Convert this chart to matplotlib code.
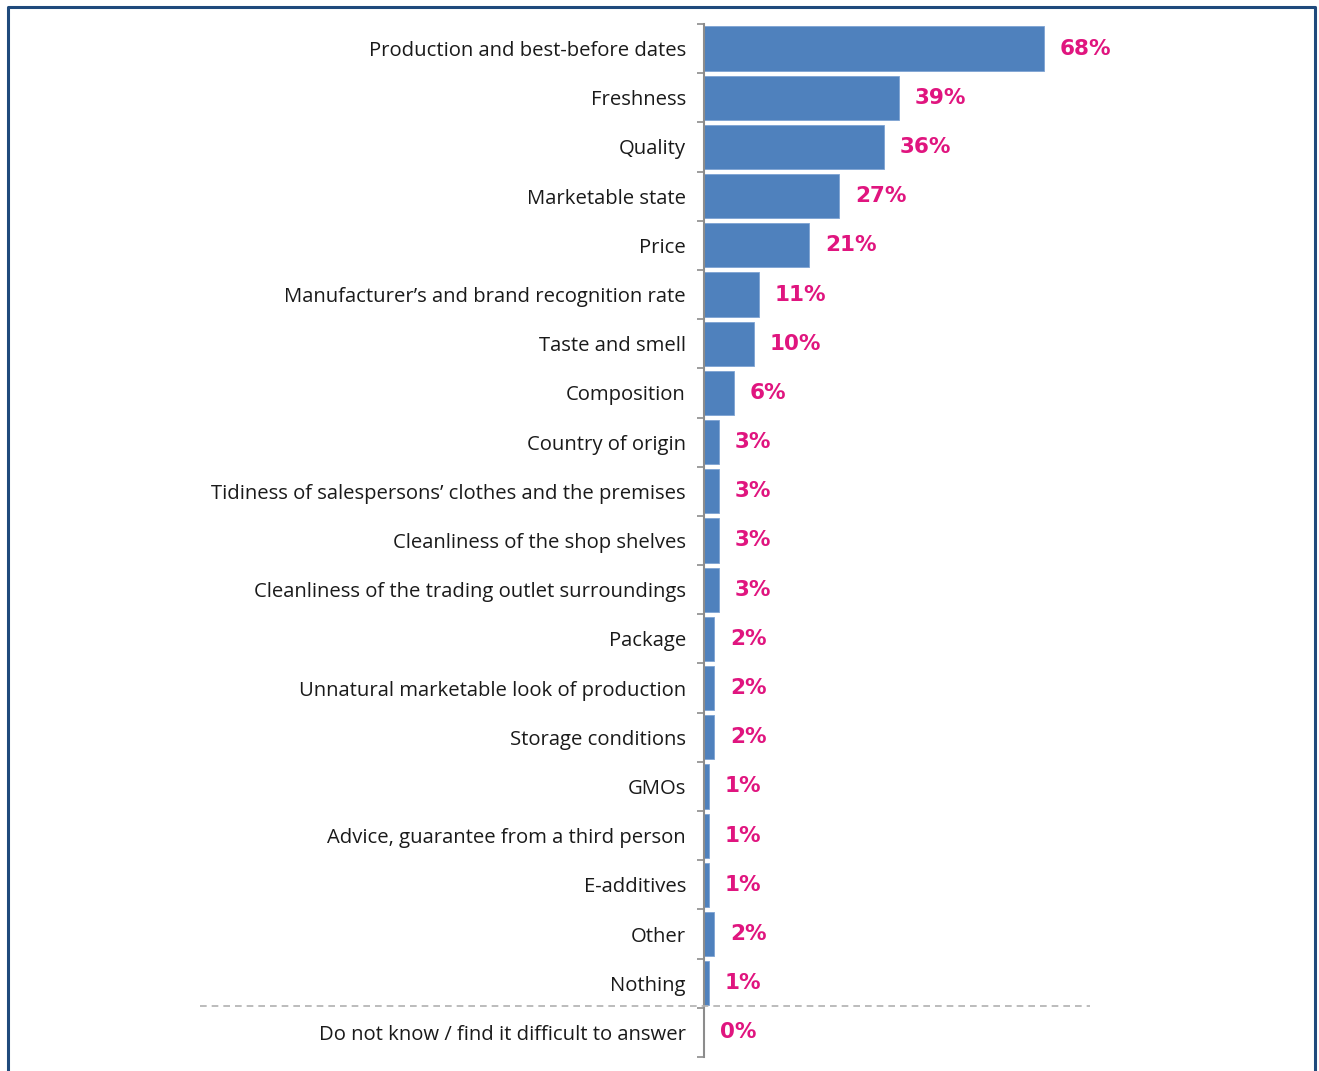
import matplotlib
matplotlib.use("Agg")
import matplotlib.pyplot as plt
from matplotlib.lines import Line2D
import numpy as np

categories = [
    "Production and best-before dates",
    "Freshness",
    "Quality",
    "Marketable state",
    "Price",
    "Manufacturer’s and brand recognition rate",
    "Taste and smell",
    "Composition",
    "Country of origin",
    "Tidiness of salespersons’ clothes and the premises",
    "Cleanliness of the shop shelves",
    "Cleanliness of the trading outlet surroundings",
    "Package",
    "Unnatural marketable look of production",
    "Storage conditions",
    "GMOs",
    "Advice, guarantee from a third person",
    "E-additives",
    "Other",
    "Nothing",
    "Do not know / find it difficult to answer",
]
values = [68, 39, 36, 27, 21, 11, 10, 6, 3, 3, 3, 3, 2, 2, 2, 1, 1, 1, 2, 1, 0]
value_labels = [f"{v}%" for v in values]

W, H = 1319, 1071
fig = plt.figure(figsize=(W / 100, H / 100), dpi=100)

# axes placement in pixels
x0_px, x1_px = 704, 1104
y_top_px, y_bot_px = 24, 1057
ax = fig.add_axes([x0_px / W, 1 - y_bot_px / H, (x1_px - x0_px) / W, (y_bot_px - y_top_px) / H])

n = len(categories)
y = np.arange(n)
ax.barh(y, values, height=0.9, color="#4F81BD", edgecolor="#7EA3D3", linewidth=0.6)
ax.set_xlim(0, (x1_px - x0_px) / 5.0)
ax.set_ylim(n - 0.5, -0.5)

label_color = "#E0157F"
for yi, v, lab in zip(y, values, value_labels):
    ax.annotate(lab, (v, yi), xytext=(11.5, 0), textcoords="offset points",
                ha="left", va="center", color=label_color, fontsize=15.5,
                fontweight="bold", family="DejaVu Sans")

ax.set_yticks(y)
ax.set_yticklabels(categories, fontsize=14.6, family="Open Sans", color="#1a1a1a")
ax.tick_params(axis="y", which="major", length=0, pad=13)
ax.set_yticks(np.arange(n + 1) - 0.5, minor=True)
ax.tick_params(axis="y", which="minor", length=5, width=1.2, color="#8c8c8c")
ax.set_xticks([])

for side in ("top", "right", "bottom"):
    ax.spines[side].set_visible(False)
ax.spines["left"].set_color("#8c8c8c")
ax.spines["left"].set_linewidth(1.5)

# dashed separator above the last category
sep_y = 1 - 1006 / H
fig.add_artist(Line2D([200 / W, 1090 / W], [sep_y, sep_y], transform=fig.transFigure,
                      color="#b0b0b0", linestyle=(0, (4, 3)), linewidth=1.2))

# frame around the chart (open at the bottom)
frame_color = "#1F4A7C"
fig.add_artist(Line2D([8 / W, 8 / W, 1315 / W, 1315 / W],
                      [0, 1 - 7 / H, 1 - 7 / H, 0], transform=fig.transFigure,
                      color=frame_color, linewidth=2.2))

fig.savefig("out.png", dpi=100)
